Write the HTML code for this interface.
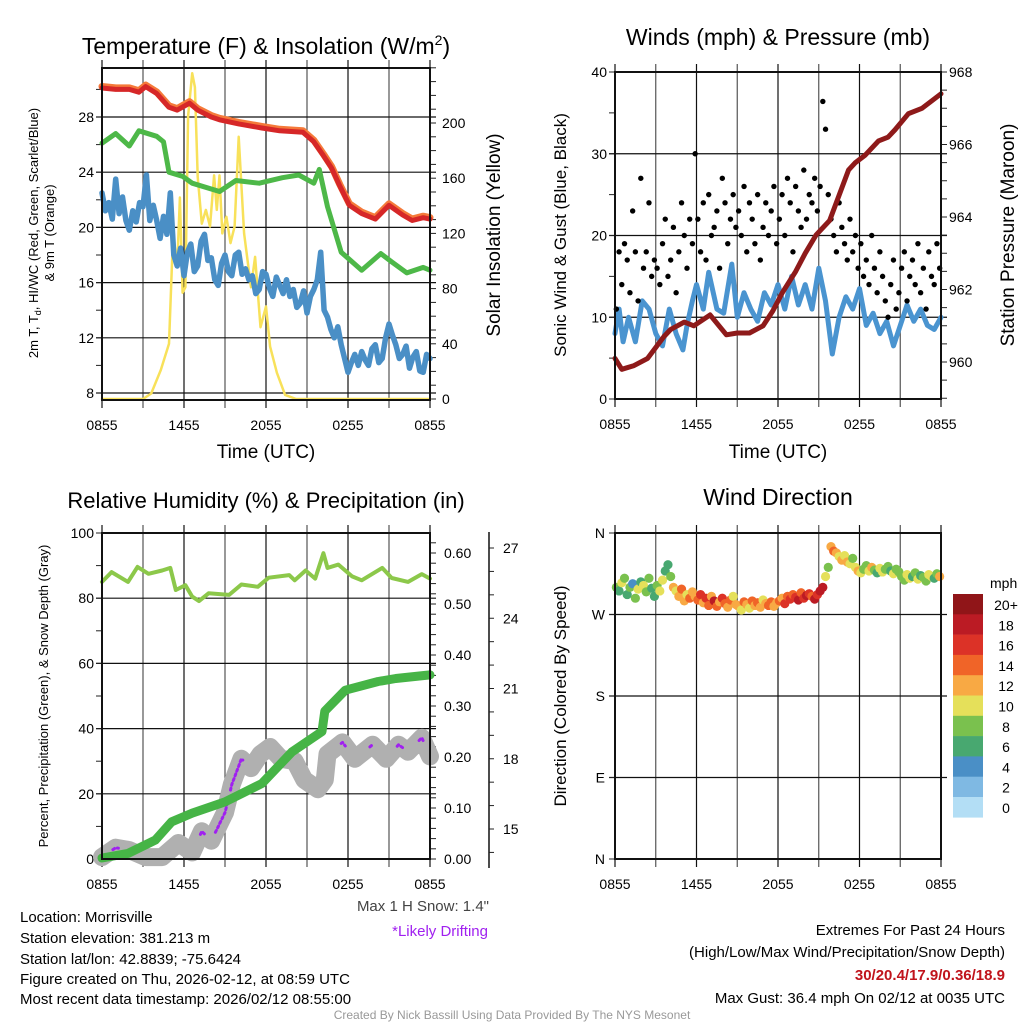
<!DOCTYPE html>
<html><head><meta charset="utf-8"><style>
body{margin:0;background:#fff;}
svg{display:block;font-family:"Liberation Sans",Arial,sans-serif;}
</style></head><body>
<svg id="fig" width="1024" height="1024" viewBox="0 0 1024 1024" xmlns="http://www.w3.org/2000/svg">
<rect x="0" y="0" width="1024" height="1024" fill="#fff"/>
<g id="layer"></g>
<g font-size="23" text-anchor="middle" fill="#000">
<text x="266" y="54">Temperature (F) &amp; Insolation (W/m<tspan font-size="14" dy="-9">2</tspan><tspan dy="9">)</tspan></text>
<text x="778" y="45">Winds (mph) &amp; Pressure (mb)</text>
<text x="266" y="508" font-size="22">Relative Humidity (%) &amp; Precipitation (in)</text>
<text x="778" y="505">Wind Direction</text>
</g>
<g font-size="19" text-anchor="middle" fill="#000">
<text x="266" y="458">Time (UTC)</text>
<text x="778" y="458">Time (UTC)</text>
<text transform="translate(500,235) rotate(-90)">Solar Insolation (Yellow)</text>
<text transform="translate(1014,235) rotate(-90)">Station Pressure (Maroon)</text>
<text transform="translate(566,235) rotate(-90)" font-size="17">Sonic Wind &amp; Gust (Blue, Black)</text>
<text transform="translate(566,696) rotate(-90)" font-size="17">Direction (Colored By Speed)</text>
<text transform="translate(38,233) rotate(-90)" font-size="13">2m T, T<tspan font-size="9" dy="3">d</tspan><tspan dy="-3">, HI/WC (Red, Green, Scarlet/Blue)</tspan></text>
<text transform="translate(54,233) rotate(-90)" font-size="13">&amp; 9m T (Orange)</text>
<text transform="translate(48,696) rotate(-90)" font-size="13">Percent, Precipitation (Green), &amp; Snow Depth (Gray)</text>
</g>
<g font-size="15" fill="#000">
<text x="20" y="922">Location: Morrisville</text>
<text x="20" y="943">Station elevation: 381.213 m</text>
<text x="20" y="964">Station lat/lon: 42.8839; -75.6424</text>
<text x="20" y="984">Figure created on Thu, 2026-02-12, at 08:59 UTC</text>
<text x="20" y="1004">Most recent data timestamp: 2026/02/12 08:55:00</text>
<text x="489" y="911" text-anchor="end" fill="#444">Max 1 H Snow: 1.4"</text>
<text x="488" y="936" text-anchor="end" fill="#a020f0">*Likely Drifting</text>
<text x="1005" y="935" text-anchor="end">Extremes For Past 24 Hours</text>
<text x="1005" y="957" text-anchor="end">(High/Low/Max Wind/Precipitation/Snow Depth)</text>
<text x="1005" y="980" text-anchor="end" fill="#c0141c" font-weight="bold">30/20.4/17.9/0.36/18.9</text>
<text x="1005" y="1003" text-anchor="end">Max Gust: 36.4 mph On 02/12 at 0035 UTC</text>
<text x="512" y="1019" text-anchor="middle" font-size="12" fill="#999">Created By Nick Bassill Using Data Provided By The NYS Mesonet</text>
</g>
</svg>
<script>
// ---------- data ----------
const xTickLabels=["0855","1455","2055","0255","0855"];
const redT=[0,1,2,2.7,3.2,4,4.9,5.5,6.4,7,8,8.6,10,11.7,13,14.7,15.5,16.2,16.8,17.4,18.1,19,20,21,22,22.7,23.5,24];
const redV=[30.1,30.0,30.0,29.8,30.2,29.7,28.7,28.5,29.0,28.5,28.0,27.8,27.5,27.2,27.0,26.9,26.2,25.2,24.3,23.0,21.6,21.0,20.6,21.6,20.9,20.5,20.7,20.6];
const greenT=[0,1,2,2.7,4,4.5,4.9,5.9,6.6,8.6,9.8,11.5,13.2,14.4,15.5,15.9,16.5,17.5,19,20.4,21.2,22.3,23.5,24];
const greenV=[26.1,26.8,25.9,27.0,26.6,26.2,24.0,23.7,23.2,22.6,23.4,23.2,23.6,23.8,23.2,24.2,21.5,18.2,16.9,18.1,17.5,16.7,17.1,16.9];
const blueStep=0.25;
const blueV=[22.5,21.2,21.8,20.6,23.5,21.0,22.2,20.5,19.8,21.2,20.4,21.8,21.5,
23.8,20.5,21.6,20.5,19.2,20.8,19.5,22.5,18.0,17.2,18.5,16.5,
18.2,18.8,16.8,17.2,19.0,19.5,17.6,17.8,16.2,15.8,17.4,18.0,
16.8,16.5,18.0,18.2,16.6,17.0,16.2,16.5,15.2,15.5,16.8,16.6,
15.6,15.0,16.4,15.8,15.2,16.2,15.0,15.5,14.2,14.5,15.4,13.8,
15.0,15.5,16.2,18.2,14.0,13.5,12.6,12.0,12.8,11.5,10.5,9.5,
10.2,10.8,10.0,11.0,10.4,10.0,11.2,11.5,10.2,10.5,12.0,13.0,
12.2,11.5,10.5,10.8,11.4,9.8,10.6,11.0,9.6,9.5,10.8,10.5];
const solT=[0,3,3.6,4.3,4.9,5.2,5.5,5.7,5.9,6.1,6.3,6.6,6.8,7.0,7.3,7.6,7.9,8.2,8.4,8.6,8.8,9.1,9.4,9.7,10,10.4,10.9,11.2,11.6,12,12.3,12.8,13.4,14.2,24];
const solV=[0,0,4,21,40,120,96,146,77,81,205,236,226,161,127,137,125,162,137,162,120,132,113,125,190,120,81,103,52,67,38,19,3,0,0];
const presT=[0,0.5,1.4,2.4,3.6,4.1,5.1,5.8,7.0,8.2,9.0,9.9,10.9,11.6,12.3,13.3,14.0,14.8,15.8,16.5,17.2,17.7,18.4,19.4,20.1,20.6,21.6,22.6,24];
const presV=[960.1,959.8,959.9,960.1,960.7,960.9,961.1,961.0,961.3,960.75,960.8,960.8,961.0,961.4,961.9,962.5,963.0,963.5,963.9,964.6,965.3,965.5,965.7,966.1,966.2,966.4,966.85,967.0,967.4];
const windT=[0,0.3,0.6,1,1.5,2,2.5,3,3.5,4,4.5,5,5.3,5.7,6,6.5,6.9,7.5,8,8.6,9,9.5,10,10.5,11,11.5,12,12.5,13,13.5,14,14.5,15,15.5,16,16.5,17,17.5,18,18.5,19,19.5,20,20.5,21,21.5,22,22.5,23,23.5,24];
const windV=[8,11,7,10,7,12,11,8,6.5,11,8,6,9,12,14,11,15.5,11,10.5,16.5,10,13,11,9.5,13,11.5,14,11,15,11.5,14,11,16,12,5.5,10,12.5,11,13.5,9,10.5,8,9.5,6.5,9,11.5,9.5,11,9,8.5,10];
const gustV=[11,18,14,19,17,13,23,18,12,27,16,18,24,15,17,16,14,19,22,15,17,21,13,18,24,20,16,22,19,30,22,18,24,17,25,20,21,23,16,27,24,19,22,25,21,23,20,26,18,24,22,19,25,17,21,24,20,23,26,19,22,25,20,27,24,18,26,23,21,28,22,25,24,27,23,26,36.4,33,25,22,20,18,24,21,19,17,22,18,20,16,19,15,17,14,20,16,13,18,15,12,10,14,17,11,13,16,18,12,15,17,14,19,13,16,11,18,15,14,19,16];
const rhT=[0,0.7,1.9,2.6,3.4,4.4,5,5.4,6.1,6.6,7.1,7.8,9.3,10.2,11.4,12.2,13.7,14.1,14.9,15.6,16.2,16.5,17.3,18.3,19,20.5,21.2,22.4,23.4,24];
const rhV=[85,88,85,89.6,87.5,88.5,89.3,82.5,84,80.5,79.1,81.5,81,84.2,83.5,86.3,87.1,85.5,88.5,86,93.8,89.3,90.3,86.7,85.5,89.3,86.2,85,87.4,86];
const precipT=[0,1.9,3.9,5.1,6.6,9.0,11.7,13.9,16.1,16.3,17.8,20.2,21.5,24];
const precipV=[0.002,0.011,0.037,0.073,0.09,0.112,0.148,0.21,0.25,0.29,0.331,0.348,0.354,0.361];
const snowT=[0,1,2,3.2,4.4,5.6,6.6,7.3,8,9.0,9.5,10.2,10.9,11.6,12.3,13.1,14.1,14.8,15.8,16.3,16.5,17.6,18.5,19.8,20.8,21.7,22.4,23.4,24];
const snowV=[13.8,14.2,14.1,13.8,13.8,14.4,14.0,14.9,14.5,15.7,16.9,18.0,17.6,18.2,18.5,18.0,17.9,17.1,16.7,17.1,18.2,18.7,18.0,18.6,18.0,18.6,18.3,18.9,18.1];
const driftStart=[0.8,7.2,8.3,9.4,17.5,19.6,21.6,23.2];
const driftEnd=[1.2,7.6,9.3,10.3,17.8,19.8,22.0,23.5];
const dirV=[300,296,305,310,292,300,304,288,298,306,302,295,310,299,290,302,296,308,318,325,312,300,296,290,298,285,292,288,295,290,286,292,283,288,280,290,285,279,284,288,282,278,286,290,281,279,275,284,281,277,285,280,283,278,286,282,280,284,279,283,285,288,282,290,287,292,289,286,294,288,291,293,290,287,292,296,300,312,322,345,340,338,334,330,335,328,326,332,322,318,316,320,324,318,322,319,316,321,317,320,323,318,315,320,317,312,308,314,310,312,316,309,313,311,307,314,312,310,315,312];
const spdV=[8,7,10,9,6,8,5,9,10,7,11,8,9,6,7,8,10,11,7,6,9,12,10,13,14,12,11,15,13,12,14,16,13,17,15,12,19,14,13,16,15,12,14,11,13,12,10,14,13,11,15,12,14,13,10,12,15,14,13,12,14,13,16,15,17,14,16,18,15,17,19,16,14,18,17,19,18,10,9,12,14,13,11,12,10,13,11,9,10,12,11,9,8,10,12,9,7,10,11,8,9,7,10,8,9,9,8,10,11,7,9,10,6,8,9,10,11,7,9,12];
const speedLabels=["20+","18","16","14","12","10","8","6","4","2","0"];
const speedColors=["#901518","#bb1b24","#dc3227","#f06428","#f8a944","#e5e05a","#7ac14e","#48a870","#4a8fc6","#7fb9e3","#b3def5"];

// ---------- helpers ----------
const NS="http://www.w3.org/2000/svg";
const layer=document.getElementById('layer');
function el(tag,attrs,parent){const e=document.createElementNS(NS,tag);for(const k in attrs)e.setAttribute(k,attrs[k]);(parent||layer).appendChild(e);return e;}
function pathD(ts,vs,xf,yf){return ts.map((t,i)=>(i?'L':'M')+xf(t).toFixed(1)+','+yf(vs[i]).toFixed(1)).join(' ');}
function lin(d0,d1,r0,r1){return v=>r0+(v-d0)*(r1-r0)/(d1-d0);}

function panelFrame(name,L,R,T,B,xs){
  const g=el('g',{});
  
  
  for(let h=0;h<=24;h+=3){
    const x=xs(h);
    const v=el('line',{x1:x,x2:x,y1:T-8,y2:B+8,stroke:(h%6?'#555':'#111'),'stroke-width':1.2},g);
    
    
  }
  xTickLabels.forEach((lab,i)=>{
    const t=el('text',{x:xs(i*6),y:B+30,'font-size':14,'text-anchor':'middle'},g);
    t.textContent=lab;
    
    
  });
  return g;
}
function hgrid(g,name,L,R,y){const l=el('line',{x1:L-6,x2:R+6,y1:y,y2:y,stroke:'#111','stroke-width':1.2},g);
  
  }
function ticks(g,name,x,vals,yf,len,labels,anchor,dx){
  vals.forEach((v,i)=>{
    const y=yf(v);
    const t=el('line',{x1:x,x2:x+len,y1:y,y2:y,stroke:'#222','stroke-width':1},g);
    
    
    if(labels&&labels[i]!==null&&labels[i]!==undefined){
      const tx=el('text',{x:x+dx,y:y+5,'font-size':14,'text-anchor':anchor},g);
      tx.textContent=labels[i];
      
      
    }
  });
}
function frame(g,name,L,R,T,B){const r=el('rect',{x:L,y:T,width:R-L,height:B-T,fill:'none',stroke:'#111','stroke-width':2},g);
  
  }
function series(g,name,d,color,w,extra){const p=el('path',Object.assign({d:d,fill:'none',stroke:color,'stroke-width':w,'stroke-linejoin':'round','stroke-linecap':'round'},extra||{}),g);
  
  return p;}
function range(a,b,s){const r=[];for(let v=a;v<=b+1e-9;v+=s)r.push(+v.toFixed(4));return r;}

// ---------- panel 1: temperature ----------
(function(){
  const L=102,R=430,T=68,B=400;
  const x=lin(0,24,L,R), yT=lin(8,28,393,117), yI=lin(0,200,399,123);
  const g=panelFrame('temperature',L,R,T,B,x);
  [8,12,16,20,24,28].forEach(v=>hgrid(g,'temperature',L,R,yT(v)));
  ticks(g,'temperature-left',L,range(8,30,2),yT,-6,range(8,30,2).map(v=>v%4===0?String(v):null),'end',-8);
  ticks(g,'insolation-right',R,range(0,240,10),yI,6,range(0,240,10).map(v=>v%40===0&&v<=200?String(v):null),'start',12);
  series(g,'solar-insolation-line',pathD(solT,solV,x,yI),'#f8e15a',2.5);
  const blueT=blueV.map((v,i)=>i*blueStep);
  series(g,'dew-point-wind-chill-line',pathD(blueT,blueV,x,yT),'#4a8fc6',5.5);
  series(g,'heat-index-green-line',pathD(greenT,greenV,x,yT),'#4db848',5);
  series(g,'nine-meter-temp-orange-line',pathD(redT,redV,x,yT),'#f57a3a',7,{transform:'translate(0,-1.5)'});
  series(g,'two-meter-temp-red-line',pathD(redT,redV,x,yT),'#d62728',5);
  frame(g,'temperature',L,R,T,B);
})();

// ---------- panel 2: winds & pressure ----------
(function(){
  const L=615,R=941,T=72,B=399;
  const x=lin(0,24,L,R), yW=lin(0,40,399,72), yP=lin(960,968,362,72);
  const g=panelFrame('wind',L,R,T,B,x);
  [10,20,30].forEach(v=>hgrid(g,'wind',L,R,yW(v)));
  ticks(g,'wind-left',L,range(0,40,5),yW,-6,range(0,40,5).map(v=>v%10===0?String(v):null),'end',-8);
  ticks(g,'pressure-right',R,range(959,968,0.5),yP,6,range(959,968,0.5).map(v=>v%2===0?String(v):null),'start',8);
  series(g,'sonic-wind-line',pathD(windT,windV,x,yW),'#4a94d0',5);
  gustV.forEach((v,i)=>{
    const c=el('circle',{cx:x(i*24/gustV.length+0.1),cy:yW(v),r:2.7,fill:'#000'},g);
    
    
  });
  series(g,'station-pressure-line',pathD(presT,presV,x,yP),'#8e1a1a',5);
  frame(g,'wind',L,R,T,B);
})();

// ---------- panel 3: RH & precipitation ----------
(function(){
  const L=102,R=430,T=533,B=859;
  const x=lin(0,24,L,R), yR=lin(0,100,859,533), yPr=lin(0,0.6,859,553), yS=lin(15,27,829,548);
  const g=panelFrame('humidity',L,R,T,B,x);
  [20,40,60,80].forEach(v=>hgrid(g,'humidity',L,R,yR(v)));
  ticks(g,'humidity-left',L,range(0,100,10),yR,-6,range(0,100,10).map(v=>v%20===0?String(v):null),'end',-8);
  ticks(g,'precip-right',R,range(0,0.62,0.02),yPr,6,range(0,0.62,0.02).map(v=>Math.abs(v*10-Math.round(v*10))<1e-6?v.toFixed(2):null),'start',14);
  const ax=el('line',{x1:489,x2:489,y1:532,y2:868,stroke:'#111','stroke-width':1.5},g);
  
  
  ticks(g,'snow-right',489,range(14,27,1),yS,5,range(14,27,1).map(v=>v>=15&&v%3===0?String(v):null),'start',14);
  const clip=el('clipPath',{id:'c3'},g);el('rect',{x:L-10,y:T,width:R-L+20,height:B-T+12},clip);
  const gs=el('g',{'clip-path':'url(#c3)'},g);
  
  
  series(gs,'snow-depth-line',pathD(snowT,snowV,x,yS),'#b0b0b0',18);
  driftStart.forEach((s,i)=>{
    const ts=[],vs=[];
    for(let t=s;t<=driftEnd[i]+1e-9;t+=0.1){
      let k=0;while(k<snowT.length-2&&snowT[k+1]<t)k++;
      const f=(t-snowT[k])/(snowT[k+1]-snowT[k]);
      ts.push(t);vs.push(snowV[k]+f*(snowV[k+1]-snowV[k]));
    }
    if(ts.length<2){ts.push(driftEnd[i]);vs.push(vs[0]);}
    series(gs,'likely-drifting-marker',pathD(ts,vs,x,yS),'#a020f0',3,{'stroke-dasharray':'2 3'});
  });
  series(gs,'precipitation-line',pathD(precipT,precipV,x,yPr),'#46b446',9);
  series(gs,'relative-humidity-line',pathD(rhT,rhV,x,yR),'#8cc84a',4);
  frame(g,'humidity',L,R,T,B);
})();

// ---------- panel 4: wind direction ----------
(function(){
  const L=615,R=941,T=533,B=859;
  const x=lin(0,24,L,R), yD=lin(0,360,859,533);
  const g=panelFrame('direction',L,R,T,B,x);
  [90,180,270].forEach(v=>hgrid(g,'direction',L,R,yD(v)));
  ticks(g,'direction-left',L,[0,90,180,270,360],yD,-6,['N','E','S','W','N'],'end',-10);
  dirV.forEach((d,i)=>{
    const s=spdV[i];
    const bin=s>=20?0:10-Math.floor(s/2);
    const c=el('circle',{cx:x(i*24/dirV.length+0.1),cy:yD(d),r:4.6,fill:speedColors[bin]},g);
    
    
  });
  frame(g,'direction',L,R,T,B);
  const mph=el('text',{x:990,y:588,'font-size':14},g);
  mph.textContent='mph';
  
  
  speedLabels.forEach((lab,i)=>{
    const r=el('rect',{x:953,y:594+i*20.3,width:30,height:20.6,fill:speedColors[i]},g);
    
    
    const t=el('text',{x:1006,y:594+i*20.3+16,'font-size':14,'text-anchor':'middle'},g);
    t.textContent=lab;
    
    
  });
})();
</script>
</body></html>
